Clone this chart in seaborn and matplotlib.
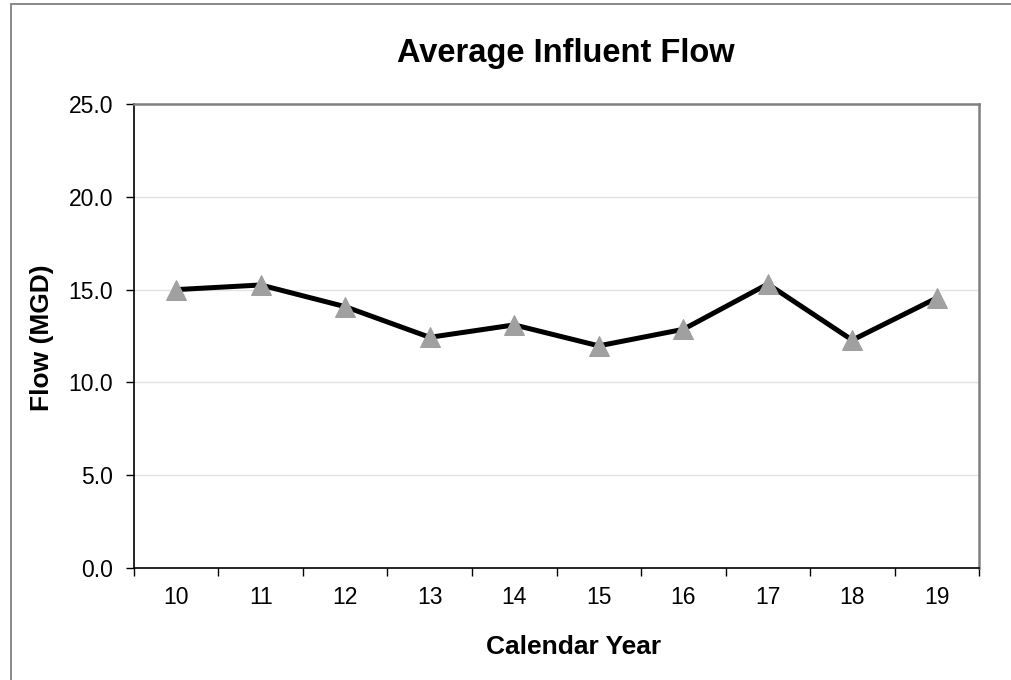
import numpy as np
import pandas as pd
import matplotlib.pyplot as plt
import seaborn as sns
from matplotlib.patches import Rectangle

# Chart data
years = ["10", "11", "12", "13", "14", "15", "16", "17", "18", "19"]
flow_mgd = [15.0, 15.25, 14.08, 12.43, 13.1, 11.97, 12.86, 15.3, 12.28, 14.55]
y_ticks = [0, 5, 10, 15, 20, 25]

sns.set_theme(style="white")
plt.rcParams['font.family'] = ['Liberation Sans', 'DejaVu Sans']
plt.rcParams.update({"text.color": "black", "axes.labelcolor": "black",
                     "xtick.color": "black", "ytick.color": "black"})

df = pd.DataFrame({"pos": np.arange(len(years)), "year": years, "flow": flow_mgd})

fig = plt.figure(figsize=(10.11, 6.8), dpi=100)
ax = fig.add_axes([0.1325, 0.1647, 0.8359, 0.6823])

# outer chart border (runs off the right and bottom edges)
fig.patches.append(Rectangle((11 / 1011, -0.05), 1.1, 1 - 4 / 680 + 0.05,
                             transform=fig.transFigure, fill=False,
                             edgecolor="#808080", linewidth=1.3))

# light horizontal gridlines
for v in y_ticks[1:-1]:
    ax.axhline(v, color="#E3E3E3", linewidth=1, zorder=0)

sns.lineplot(data=df, x="pos", y="flow", ax=ax, color="black", linewidth=3.6,
             marker="^", markersize=15, markerfacecolor="#A0A0A0",
             markeredgecolor="#A0A0A0", zorder=3)

ax.set_xlim(-0.5, len(years) - 0.5)
ax.set_ylim(0, 25)
ax.set_yticks(y_ticks)
ax.set_yticklabels([f"{v:.1f}" for v in y_ticks], fontsize=16.5)

# tick marks between categories, labels centred on categories
ax.set_xticks(np.arange(len(years) + 1) - 0.5)
ax.set_xticklabels([])
ax.set_xticks(np.arange(len(years)), minor=True)
ax.set_xticklabels(years, minor=True, fontsize=16.5)
ax.tick_params(axis="x", which="major", direction="out", length=6, width=1, color="black")
ax.tick_params(axis="x", which="minor", length=0, pad=13)
ax.tick_params(axis="y", direction="out", length=6, width=1, color="black", pad=9)
ax.tick_params(left=True, bottom=True)

for side in ["left", "bottom"]:
    ax.spines[side].set_color("black")
    ax.spines[side].set_linewidth(1.2)
for side in ["top", "right"]:
    ax.spines[side].set_visible(True)
    ax.spines[side].set_color("#808080")
    ax.spines[side].set_linewidth(1.8)

ax.set_title("Average Influent Flow", fontsize=23.5, fontweight="bold", pad=30, x=0.511)
ax.set_xlabel("Calendar Year", fontsize=19, fontweight="bold")
ax.set_ylabel("Flow (MGD)", fontsize=19, fontweight="bold")
ax.xaxis.set_label_coords(0.5207, -0.1444)
ax.yaxis.set_label_coords(-0.0947, 0.496)

fig.savefig("out.png", dpi=100)
